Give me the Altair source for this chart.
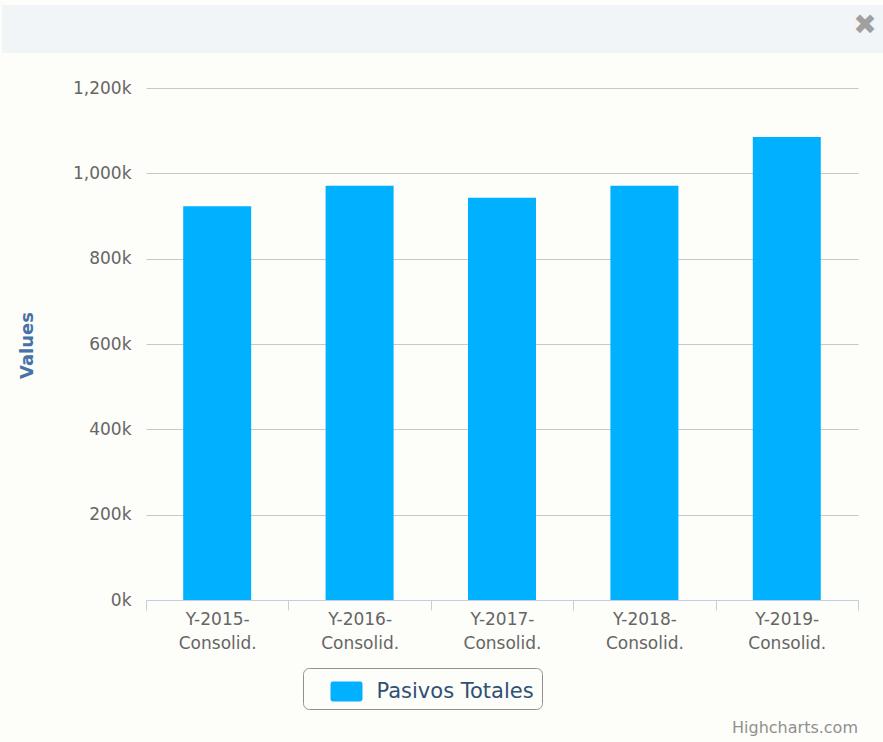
import altair as alt
import pandas as pd

categories = ["Y-2015-Consolid.", "Y-2016-Consolid.", "Y-2017-Consolid.",
              "Y-2018-Consolid.", "Y-2019-Consolid."]
values_k = [923, 971, 943, 971, 1085]
series_name = "Pasivos Totales"
y_ticks = [0, 200, 400, 600, 800, 1000, 1200]

df = pd.DataFrame({"cat": categories, "amount": values_k, "series": [series_name] * len(categories)})
one = pd.DataFrame({"a": [0]})

FONT = "DejaVu Sans"
BAR = "#00b1ff"
BG = "#fdfdf9"

sym_path = ("M-0.85,-0.625H0.85Q1,-0.625 1,-0.475V0.475Q1,0.625 0.85,0.625"
            "H-0.85Q-1,0.625 -1,0.475V-0.475Q-1,-0.625 -0.85,-0.625Z")

bars = alt.Chart(df).mark_bar(width=alt.RelativeBandSize(0.4775)).encode(
    x=alt.X("cat:N", sort=categories,
            scale=alt.Scale(paddingInner=0, paddingOuter=0),
            axis=alt.Axis(title=None, labelAngle=0, tickBand="extent",
                          domainColor="#c0d0e0", tickColor="#c0d0e0", tickSize=10,
                          labelFont=FONT, labelFontSize=17, labelColor="#666666",
                          labelPadding=1, labelBaseline="top", labelLineHeight=24,
                          labelExpr="isValid(datum.value) ? [slice(datum.value, 0, 7), slice(datum.value, 7)] : ''",
                          grid=False)),
    y=alt.Y("amount:Q", scale=alt.Scale(domain=[0, 1200], nice=False),
            axis=alt.Axis(title="Values", values=y_ticks,
                          labelExpr="format(datum.value, ',') + 'k'",
                          labelFont=FONT, labelFontSize=17, labelColor="#666666",
                          labelPadding=15, domain=False, ticks=False,
                          grid=True, gridColor="#c8c8c8", gridWidth=1,
                          titleFont=FONT, titleFontSize=18, titleFontWeight="bold",
                          titleColor="#4572a7", titleX=-119, titleY=257,
                          titleBaseline="middle", titleAngle=270)),
    color=alt.Color("series:N",
                    scale=alt.Scale(domain=[series_name], range=[BAR]),
                    legend=alt.Legend(title=None, orient="none", legendX=157, legendY=580,
                                      direction="horizontal", symbolType=sym_path,
                                      symbolSize=1024, symbolStrokeWidth=0,
                                      symbolOffset=20, labelOffset=14,
                                      labelFont=FONT, labelFontSize=21,
                                      labelColor="#2f5175", labelLimit=400,
                                      padding=7.5, strokeColor="#909090",
                                      cornerRadius=6, fillColor=BG)),
)

header = alt.Chart(one).mark_rect(color="#f2f5f7").encode(
    x=alt.value(-144), x2=alt.value(737), y=alt.value(-83), y2=alt.value(-35))

close_icon = alt.Chart(one).mark_text(text="✖", font=FONT, fontSize=28,
                                      color="#a0a0a0", align="center",
                                      baseline="middle").encode(
    x=alt.value(719), y=alt.value(-62))

credit = alt.Chart(one).mark_text(text="Highcharts.com", font=FONT, fontSize=16,
                                  color="#909090", align="right",
                                  baseline="alphabetic").encode(
    x=alt.value(712), y=alt.value(645))

chart = alt.layer(header, close_icon, bars, credit).properties(
    width=712, height=512,
    autosize=alt.AutoSizeParams(type="none"),
    padding={"left": 146, "top": 88, "right": 25, "bottom": 142},
    background=BG,
).configure_view(stroke=None)

chart.save("out.html", embed_options={"renderer": "svg", "actions": False})
